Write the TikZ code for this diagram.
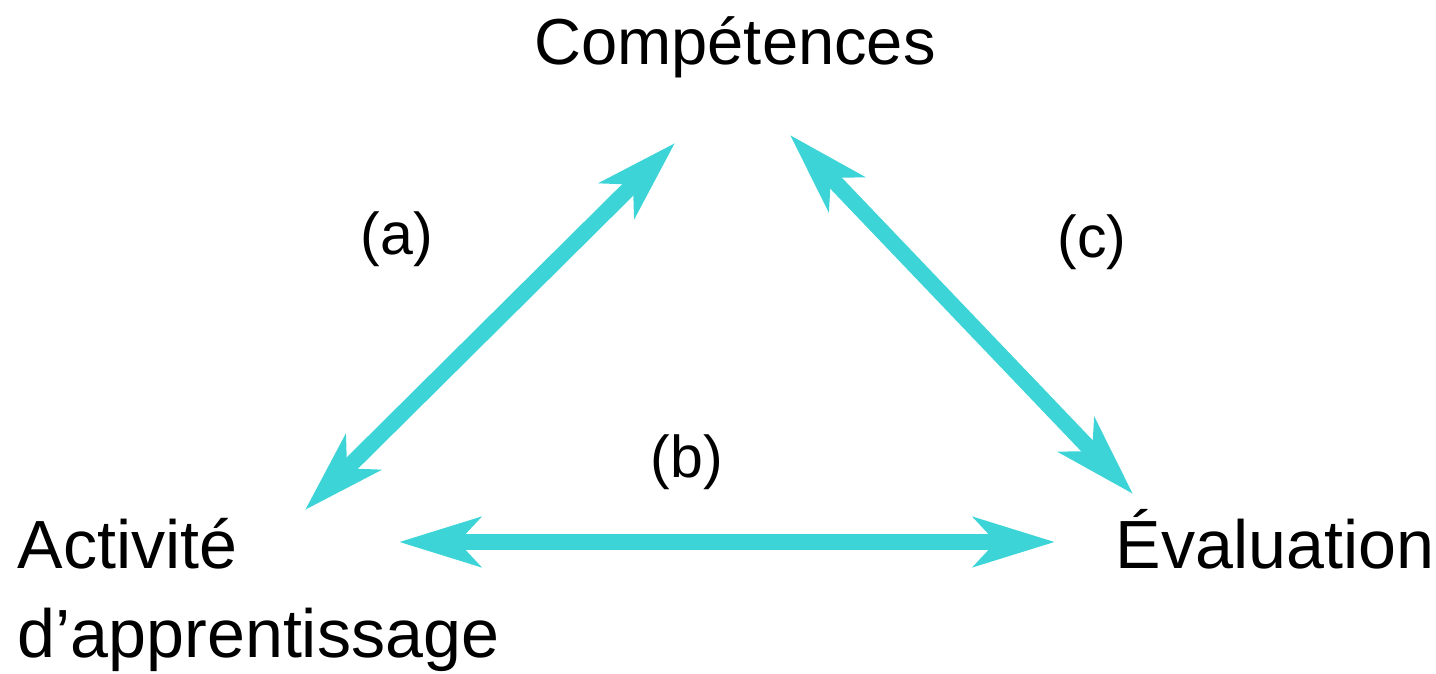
\documentclass[tikz,border=0pt]{standalone}
\usepackage{fontspec}
\setmainfont{Liberation Sans}
\usepackage{tikz}
\usetikzlibrary{arrows.meta}
\definecolor{turquoise}{RGB}{60,212,214}

\begin{document}
\begin{tikzpicture}[
						labelnode/.style={inner sep=0pt, font=\fontsize{19.4}{25.3}\selectfont},
						smalllabel/.style={inner sep=0pt, font=\fontsize{16.8}{20}\selectfont},
						arrowline/.style={draw=turquoise, line width=0.16cm, {Stealth[length=0.81cm, width=0.49cm, inset=0.22cm]}-{Stealth[length=0.81cm, width=0.49cm, inset=0.22cm]}},
						]
						\useasboundingbox (0,0) rectangle (14.36,6.73);
						%Nodes
						\node[labelnode, anchor=base, font=\fontsize{18.5}{22}\selectfont]  (comp) 	at	(7.35,6.08) 	{Compétences};
						\node[labelnode, anchor=base west, align=left]  (act) 	at 	(0.17,0.16)     {Activité\\d’apprentissage};
						\node[labelnode, anchor=base west]  (eval) 	at 	(11.15,1.05)    {Évaluation};
						\node[smalllabel, anchor=base]      (la) 	at 	(3.97,4.18)     {(a)};
						\node[smalllabel, anchor=base]      (lb) 	at 	(6.87,1.95)     {(b)};
						\node[smalllabel, anchor=base]      (lc) 	at 	(10.92,4.15)    {(c)};
						%Arrow ends
						\coordinate (a1) at (3.05,1.63);
						\coordinate (a2) at (6.75,5.30);
						\coordinate (b1) at (3.99,1.31);
						\coordinate (b2) at (10.55,1.31);
						\coordinate (c1) at (7.90,5.38);
						\coordinate (c2) at (11.33,1.79);
						
						\draw[arrowline] (a1) -- (a2);
						\draw[arrowline] (b1) -- (b2);
						\draw[arrowline] (c1) -- (c2);
					\end{tikzpicture}
\end{document}
